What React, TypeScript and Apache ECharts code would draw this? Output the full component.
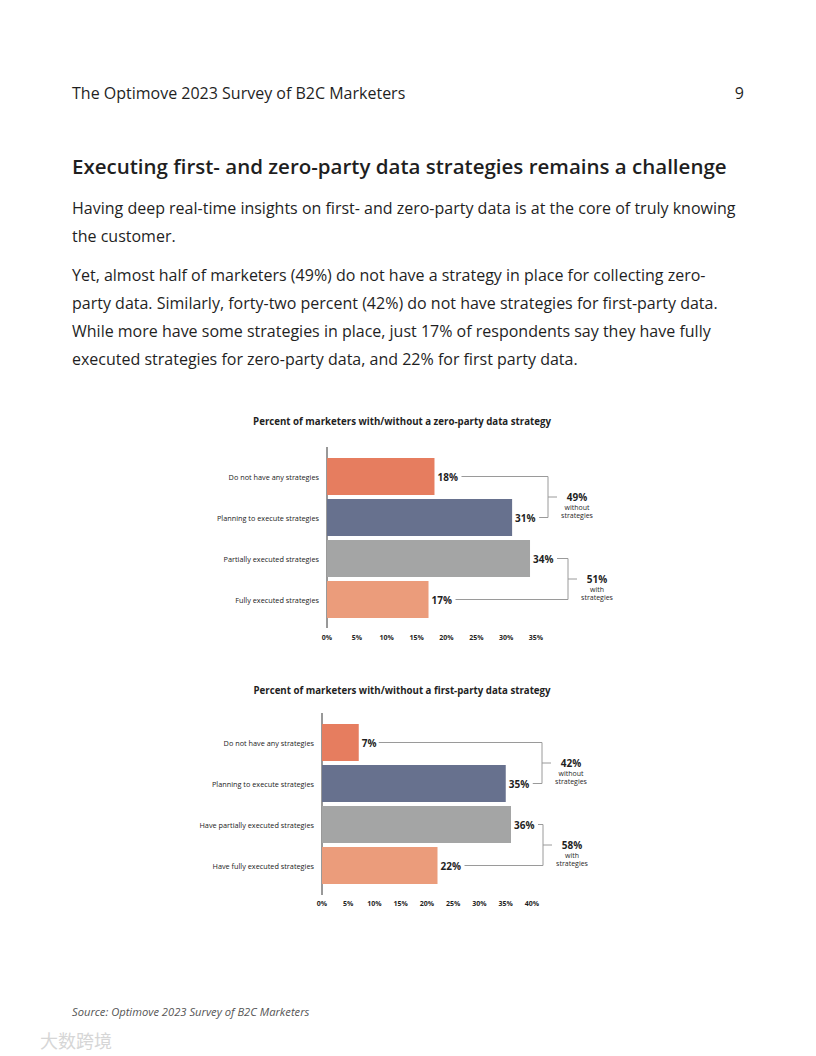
import React, { useEffect, useRef } from "react";
import * as echarts from "echarts";

const zeroCategories = [
  "Do not have any strategies",
  "Planning to execute strategies",
  "Partially executed strategies",
  "Fully executed strategies",
];
const zeroValues = [18, 31, 34, 17];
const zeroTotals = ["49%", "51%"];

const firstCategories = [
  "Do not have any strategies",
  "Planning to execute strategies",
  "Have partially executed strategies",
  "Have fully executed strategies",
];
const firstValues = [7, 35, 36, 22];
const firstTotals = ["42%", "58%"];

const groupLabels = [["without", "strategies"], ["with", "strategies"]];
const barColors = ["#E67D5F", "#67718E", "#A4A5A5", "#EB9C7B"];

const zeroTicks = { max: 35, interval: 5 };
const firstTicks = { max: 40, interval: 5 };

const FONT = '"Open Sans"';
const INK = "#1f1f1f";
const BR = "#9a9a9a";

export default function App() {
  const ref = useRef<HTMLDivElement>(null);
  useEffect(() => {
    const chart = echarts.init(ref.current!, undefined, { renderer: "svg" });

    const g1 = { left: 327, width: 209, top: 456, height: 164 };
    const g2 = { left: 322, width: 210, top: 722, height: 164 };

    const xPix = (g: any, max: number, v: number) => g.left + (v / max) * g.width;
    const yPix = (g: any, i: number) => g.top + (i + 0.5) * (g.height / 4);
    const labelW = (v: number) => (v >= 10 ? 25 : 18);

    const bracket = (
      g: any,
      max: number,
      vals: number[],
      i: number,
      j: number,
      bx: number,
      total: string,
      sub: string[]
    ) => {
      const ya = yPix(g, i);
      const yb = yPix(g, j);
      const xa = xPix(g, max, vals[i]) + labelW(vals[i]) + 2;
      const xb = xPix(g, max, vals[j]) + labelW(vals[j]) + 2;
      const ym = (ya + yb) / 2;
      const style = { stroke: BR, lineWidth: 1, fill: null };
      return [
        { type: "polyline", shape: { points: [[xa, ya], [bx, ya], [bx, yb], [xb, yb]] }, style, silent: true },
        { type: "line", shape: { x1: bx, y1: ym, x2: bx + 9, y2: ym }, style, silent: true },
        {
          type: "text",
          x: bx + 29,
          y: ym,
          style: { text: total, font: `bold 10px ${FONT}`, fill: INK, align: "center", verticalAlign: "middle" },
        },
        {
          type: "text",
          x: bx + 29,
          y: ym + 10,
          style: { text: sub[0], font: `7px ${FONT}`, fill: INK, align: "center", verticalAlign: "middle" },
        },
        {
          type: "text",
          x: bx + 29,
          y: ym + 18.5,
          style: { text: sub[1], font: `7px ${FONT}`, fill: INK, align: "center", verticalAlign: "middle" },
        },
      ];
    };

    const txt = (x: number, y: number, text: string, font: string, fill = INK, align = "left") => ({
      type: "text",
      x,
      y,
      style: { text, font, fill, align, verticalAlign: "middle" },
    });

    const bodyFont = `16px ${FONT}`;

    const xAxisBase = (g: any, t: any, idx: number) => ({
      type: "value",
      gridIndex: idx,
      min: 0,
      max: t.max,
      interval: t.interval,
      axisLine: { show: false },
      axisTick: { show: false },
      splitLine: { show: false },
      axisLabel: { formatter: "{value}%", fontSize: 7, fontWeight: "bold", color: INK, fontFamily: "Open Sans", margin: 14 },
    });
    const yAxisBase = (cats: string[], idx: number) => ({
      type: "category",
      gridIndex: idx,
      data: cats,
      inverse: true,
      axisLine: { show: false },
      axisTick: { show: false },
      axisLabel: { fontSize: 7.3, color: "#222", fontFamily: "Open Sans", margin: 8 },
    });
    const series = (vals: number[], idx: number) => ({
      type: "bar",
      xAxisIndex: idx,
      yAxisIndex: idx,
      barCategoryGap: "10%",
      data: vals.map((v, i) => ({ value: v, itemStyle: { color: barColors[i] } })),
      label: {
        show: true,
        position: "right",
        distance: 3,
        formatter: "{c}%",
        fontSize: 10,
        fontWeight: "bold",
        color: INK,
        fontFamily: "Open Sans",
      },
    });

    chart.setOption({
      animation: false,
      backgroundColor: "#ffffff",
      grid: [
        { ...g1, containLabel: false },
        { ...g2, containLabel: false },
      ],
      xAxis: [xAxisBase(g1, zeroTicks, 0), xAxisBase(g2, firstTicks, 1)],
      yAxis: [yAxisBase(zeroCategories, 0), yAxisBase(firstCategories, 1)],
      series: [series(zeroValues, 0), series(firstValues, 1)],
      graphic: [
        txt(72, 93, "The Optimove 2023 Survey of B2C Marketers", `16px ${FONT}`),
        txt(744, 93, "9", `16px ${FONT}`, INK, "right"),
        txt(72, 166, "Executing first- and zero-party data strategies remains a challenge", `600 20.5px ${FONT}`),
        txt(72, 208, "Having deep real-time insights on first- and zero-party data is at the core of truly knowing", bodyFont),
        txt(72, 236, "the customer.", bodyFont),
        txt(72, 275, "Yet, almost half of marketers (49%) do not have a strategy in place for collecting zero-", bodyFont),
        txt(72, 303, "party data. Similarly, forty-two percent (42%) do not have strategies for first-party data.", bodyFont),
        txt(72, 331, "While more have some strategies in place, just 17% of respondents say they have fully", bodyFont),
        txt(72, 359, "executed strategies for zero-party data, and 22% for first party data.", bodyFont),
        txt(402, 421, "Percent of marketers with/without a zero-party data strategy", `bold 9.7px ${FONT}`, INK, "center"),
        txt(402, 690, "Percent of marketers with/without a first-party data strategy", `bold 9.7px ${FONT}`, INK, "center"),
        { type: "line", shape: { x1: g1.left, y1: 447, x2: g1.left, y2: 628 }, style: { stroke: "#333", lineWidth: 1 } },
        { type: "line", shape: { x1: g2.left, y1: 713, x2: g2.left, y2: 895 }, style: { stroke: "#333", lineWidth: 1 } },
        ...bracket(g1, zeroTicks.max, zeroValues, 0, 1, 548, zeroTotals[0], groupLabels[0]),
        ...bracket(g1, zeroTicks.max, zeroValues, 2, 3, 568, zeroTotals[1], groupLabels[1]),
        ...bracket(g2, firstTicks.max, firstValues, 0, 1, 542, firstTotals[0], groupLabels[0]),
        ...bracket(g2, firstTicks.max, firstValues, 2, 3, 543, firstTotals[1], groupLabels[1]),
        txt(72, 1011, "Source: Optimove 2023 Survey of B2C Marketers", `italic 11.2px ${FONT}`, "#555"),
        txt(40, 1040, "大数跨境", `18px "Noto Sans CJK SC"`, "#d6d6d6"),
      ],
    });
    return () => chart.dispose();
  }, []);
  return <div ref={ref} style={{ position: "absolute", left: 0, top: 0, width: 816, height: 1056 }} />;
}
